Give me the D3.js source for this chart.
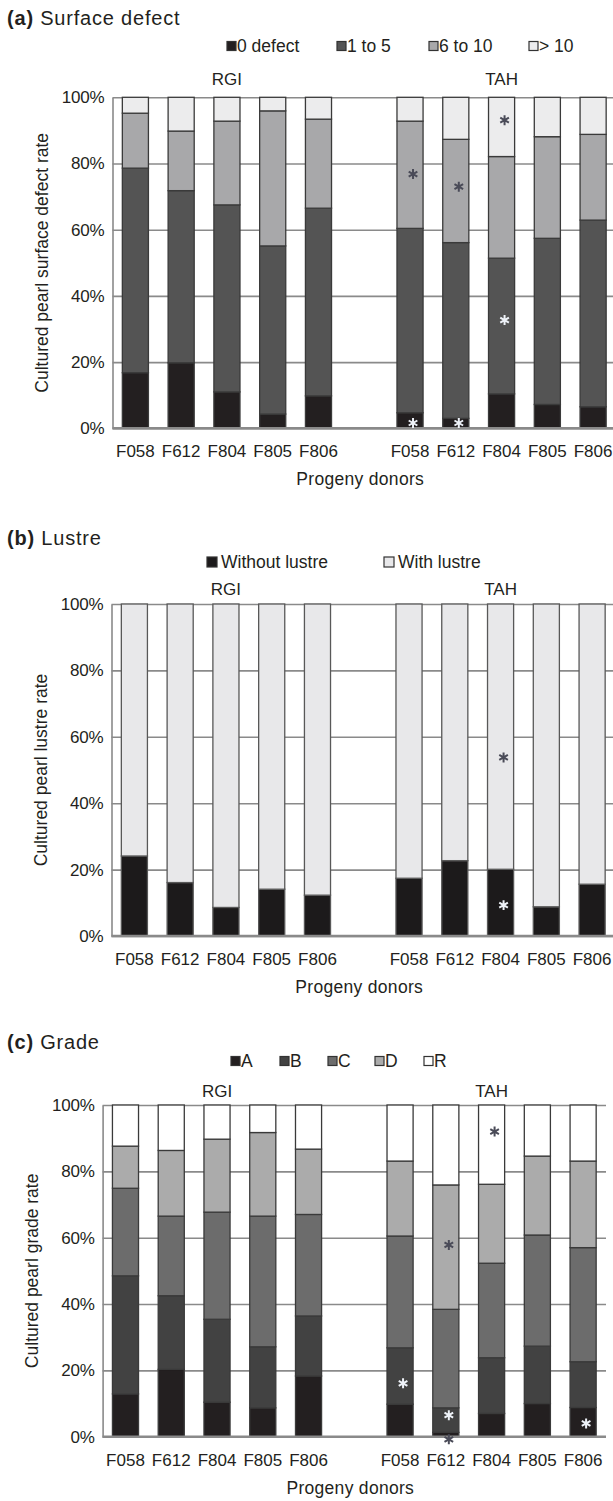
<!DOCTYPE html>
<html><head><meta charset="utf-8">
<script src="https://cdnjs.cloudflare.com/ajax/libs/d3/7.8.5/d3.min.js"></script>
<style>
html,body{margin:0;padding:0;background:#fff;}
svg{display:block;font-family:"Liberation Sans",Arial,Helvetica,sans-serif;}
</style></head><body>
<svg id="chart" width="613" height="1501"></svg>
<script>
// ---------- data ----------
const groups = ["RGI", "TAH"];
const donors = ["F058", "F612", "F804", "F805", "F806"];
const yTicks = [0, 20, 40, 60, 80, 100];
const xTitle = "Progeny donors";

// (a) Surface defect  (RGI F058..F806, TAH F058..F806), % of pearls
const defectSeries = ["0 defect", "1 to 5", "6 to 10", "> 10"];
const defectZero   = [16.8, 19.8, 11.0, 4.3, 9.8,   4.7, 3.0, 10.4, 7.2, 6.5];
const defect1to5   = [61.8, 52.0, 56.5, 50.8, 56.7, 55.7, 53.1, 41.0, 50.2, 56.4];
const defect6to10  = [16.6, 18.0, 25.3, 40.8, 26.9, 32.4, 31.2, 30.7, 30.7, 25.9];
const defectOver10 = [4.8, 10.2, 7.2, 4.1, 6.6,    7.2, 12.7, 17.9, 11.9, 11.2];
const defectStars = [
  {group: "TAH", donor: "F058", value: 76.8, tone: "dark"},
  {group: "TAH", donor: "F058", value: 1.6,  tone: "light"},
  {group: "TAH", donor: "F612", value: 73.0, tone: "dark"},
  {group: "TAH", donor: "F612", value: 1.6,  tone: "light"},
  {group: "TAH", donor: "F804", value: 93.1, tone: "dark"},
  {group: "TAH", donor: "F804", value: 32.7, tone: "light"}
];

// (b) Lustre
const lustreSeries = ["Without lustre", "With lustre"];
const lustreWithout = [24.1, 16.1, 8.6, 14.1, 12.3,  17.4, 22.7, 20.1, 8.8, 15.6];
const lustreWith    = [75.9, 83.9, 91.4, 85.9, 87.7, 82.6, 77.3, 79.9, 91.2, 84.4];
const lustreStars = [
  {group: "TAH", donor: "F804", value: 53.8, tone: "dark"},
  {group: "TAH", donor: "F804", value: 9.3,  tone: "light"}
];

// (c) Grade
const gradeSeries = ["A", "B", "C", "D", "R"];
const gradeA = [12.9, 20.3, 10.4, 8.7, 18.3,  9.8, 1.3, 7.0, 10.0, 8.8];
const gradeB = [35.6, 22.2, 25.0, 18.4, 18.1, 17.0, 7.4, 16.8, 17.3, 13.8];
const gradeC = [26.4, 24.0, 32.3, 39.4, 30.6, 33.7, 29.7, 28.5, 33.5, 34.4];
const gradeD = [12.7, 19.8, 22.0, 25.2, 19.7, 22.6, 37.5, 23.8, 23.8, 26.1];
const gradeR = [12.4, 13.7, 10.3, 8.3, 13.3,  16.9, 24.1, 23.9, 15.4, 16.9];
const gradeStars = [
  {group: "TAH", donor: "F058", value: 16.1, tone: "light"},
  {group: "TAH", donor: "F612", value: 57.8, tone: "dark"},
  {group: "TAH", donor: "F612", value: 6.5,  tone: "light"},
  {group: "TAH", donor: "F612", value: -0.8, tone: "dark"},
  {group: "TAH", donor: "F804", value: 92.0, tone: "dark"},
  {group: "TAH", donor: "F806", value: 4.0,  tone: "light"}
];

// ---------- drawing ----------
const svg = d3.select("#chart");
svg.append("rect").attr("width", 613).attr("height", 1501).attr("fill", "#fff");
const TEXT = "#231f20";

const catKeys = [];
groups.forEach(g => donors.forEach(d => catKeys.push(g + "|" + d)));
const slots = [...donors.map(d => groups[0] + "|" + d), "gap", ...donors.map(d => groups[1] + "|" + d)];

function drawPanel(cfg) {
  const g = svg.append("g");
  const x = d3.scaleBand().domain(slots).range([cfg.left, cfg.right])
    .paddingInner(0.43).paddingOuter(0.215);
  const y = d3.scaleLinear().domain([0, 100]).range([cfg.bottom, cfg.top]);

  // title
  const t = g.append("text").attr("x", 7).attr("y", cfg.titleY)
    .attr("dominant-baseline", "central").attr("font-size", 20).attr("fill", TEXT)
    .attr("letter-spacing", 0.8);
  t.append("tspan").attr("font-weight", "bold").text(cfg.titleTag);
  t.append("tspan").text(" " + cfg.titleText);

  // legend
  cfg.series.forEach((s, i) => {
    const lx = cfg.legendX[i];
    g.append("rect").attr("x", lx).attr("y", cfg.legendY - cfg.legendSq / 2)
      .attr("width", cfg.legendSq).attr("height", cfg.legendSq)
      .attr("fill", cfg.fills[i]).attr("stroke", "#333").attr("stroke-width", 1.2);
    g.append("text").attr("x", lx + cfg.legendSq + cfg.legendGap).attr("y", cfg.legendY)
      .attr("dominant-baseline", "central").attr("font-size", 17.5).attr("fill", TEXT)
      .text(s);
  });

  // group labels
  groups.forEach(gr => {
    const k = gr + "|" + donors[2];
    g.append("text").attr("x", x(k) + x.bandwidth() / 2).attr("y", cfg.groupY)
      .attr("text-anchor", "middle").attr("dominant-baseline", "central")
      .attr("font-size", 17).attr("fill", TEXT).text(gr);
  });

  // y axis with gridlines
  const yAx = g.append("g").attr("transform", `translate(${cfg.left},0)`)
    .call(d3.axisLeft(y).tickValues(yTicks).tickFormat(d => d + "%")
      .tickSizeInner(-(cfg.right - cfg.left)).tickSizeOuter(0).tickPadding(8));
  yAx.select(".domain").attr("stroke", "#8a8a8a").attr("stroke-width", 1.6);
  yAx.selectAll(".tick line").attr("stroke", "#8a8a8a").attr("stroke-width", 1.6);
  yAx.selectAll(".tick text").attr("font-size", 17).attr("fill", TEXT)
    .attr("font-family", null).attr("letter-spacing", -0.2);

  // stacked bars
  const rows = catKeys.map((k, i) => {
    const o = {key: k};
    cfg.series.forEach((s, j) => { o[s] = cfg.values[j][i]; });
    return o;
  });
  const stacked = d3.stack().keys(cfg.series)(rows);
  stacked.forEach((layer, j) => {
    g.append("g").selectAll("rect").data(layer).join("rect")
      .attr("x", d => x(d.data.key))
      .attr("width", x.bandwidth())
      .attr("y", d => y(d[1]))
      .attr("height", d => y(d[0]) - y(d[1]))
      .attr("fill", cfg.fills[j])
      .attr("stroke", cfg.barStroke).attr("stroke-width", 1.3);
  });

  // bottom baseline
  g.append("line").attr("x1", cfg.left).attr("x2", cfg.right)
    .attr("y1", y(0)).attr("y2", y(0)).attr("stroke", "#8a8a8a").attr("stroke-width", 2.4);

  // x axis labels
  const xAx = g.append("g").attr("transform", `translate(0,${cfg.bottom})`)
    .call(d3.axisBottom(x).tickValues(catKeys).tickFormat(k => k.split("|")[1])
      .tickSize(0).tickPadding(17));
  xAx.select(".domain").remove();
  xAx.selectAll(".tick text").attr("font-size", 17).attr("fill", TEXT)
    .attr("font-family", null);

  // axis titles
  g.append("text").attr("x", (cfg.left + cfg.right) / 2 - 4).attr("y", cfg.bottom + 51)
    .attr("text-anchor", "middle").attr("dominant-baseline", "central")
    .attr("font-size", 17.5).attr("fill", TEXT).attr("letter-spacing", 0.3).text(xTitle);
  g.append("text")
    .attr("transform", `translate(${cfg.left - 71},${(cfg.top + cfg.bottom) / 2}) rotate(-90)`)
    .attr("text-anchor", "middle").attr("dominant-baseline", "central")
    .attr("font-size", 17.5).attr("fill", TEXT).text(cfg.yTitle);

  // significance asterisks
  const sym = d3.symbol().type(d3.symbolAsterisk).size(70);
  g.append("g").selectAll("path").data(cfg.stars).join("path")
    .attr("d", sym)
    .attr("transform", d => `translate(${x(d.group + "|" + d.donor) + x.bandwidth() / 2 + 3},${y(d.value)})`)
    .attr("fill", "none")
    .attr("stroke", d => d.tone === "dark" ? "#4a4b58" : "#eef2f8")
    .attr("stroke-width", 2);
}

drawPanel({
  titleTag: "(a)", titleText: "Surface defect", titleY: 18,
  series: defectSeries, values: [defectZero, defect1to5, defect6to10, defectOver10],
  fills: ["#231f20", "#545454", "#a8a8aa", "#ececed"],
  legendX: [227, 337, 429, 529], legendY: 46, legendSq: 9, legendGap: 1,
  groupY: 79, left: 112.5, right: 616, top: 97.3, bottom: 428.3,
  yTitle: "Cultured pearl surface defect rate", barStroke: "#3a3a3a",
  stars: defectStars
});

drawPanel({
  titleTag: "(b)", titleText: "Lustre", titleY: 538,
  series: lustreSeries, values: [lustreWithout, lustreWith],
  fills: ["#1c1a1b", "#e8e8ea"],
  legendX: [207, 384], legendY: 562, legendSq: 10, legendGap: 4,
  groupY: 589, left: 111.5, right: 615, top: 604, bottom: 936,
  yTitle: "Cultured pearl lustre rate", barStroke: "#585858",
  stars: lustreStars
});

drawPanel({
  titleTag: "(c)", titleText: "Grade", titleY: 1042,
  series: gradeSeries, values: [gradeA, gradeB, gradeC, gradeD, gradeR],
  fills: ["#231f20", "#424242", "#6c6c6c", "#ababab", "#ffffff"],
  legendX: [231, 280, 328, 375, 424], legendY: 1061, legendSq: 9, legendGap: 1,
  groupY: 1091, left: 102.6, right: 606, top: 1105, bottom: 1436.7,
  yTitle: "Cultured pearl grade rate", barStroke: "#3a3a3a",
  stars: gradeStars
});
</script>
</body></html>
